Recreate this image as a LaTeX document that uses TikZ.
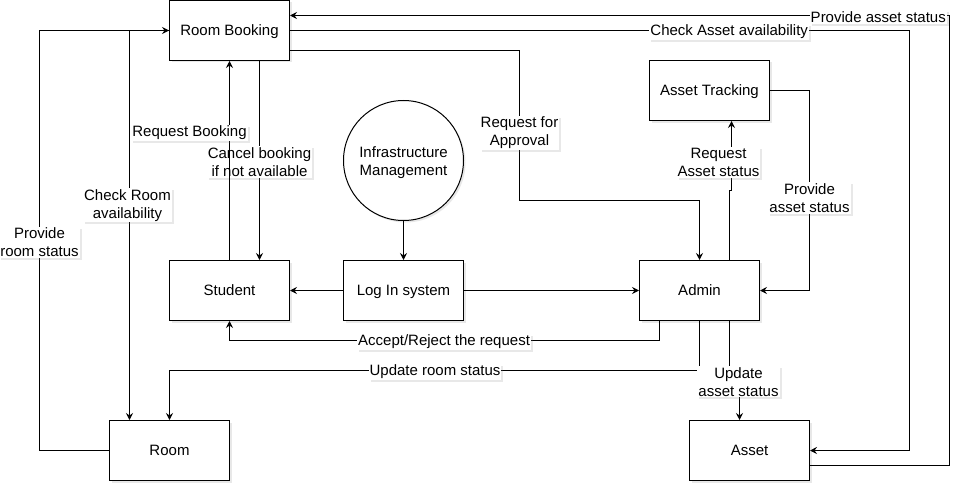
\documentclass[tikz,border=0pt]{standalone}
\usepackage{fontspec}
\setmainfont{Liberation Sans}
\usetikzlibrary{arrows.meta,shadows}

\begin{document}
\begin{tikzpicture}[x=1pt,y=-1pt,line width=1pt,font=\fontsize{15}{18}\selectfont,
	shade/.style={drop shadow={opacity=0.18,shadow xshift=2pt,shadow yshift=-2pt}},
	proc/.style={draw,fill=white,minimum width=120pt,minimum height=60pt,text height=10.8pt,text depth=0pt,shade},
	lbl/.style={fill=white,align=center,inner sep=1pt,yshift=-1.5pt,shade},
	flow/.style={-{Stealth[length=7pt,width=7pt,inset=2.5pt]}}]
				\useasboundingbox (0,0) rectangle (964,487);
				
				\node[proc] (booking) at (229.5,30.5) {Room Booking};
				\node[proc] (student) at (229.5,290.5) {Student};
				\node[proc] (login) at (403.5,290.5) {Log In system};
				\node[proc] (admin) at (699.5,290.5) {Admin};
				\node[proc] (tracking) at (709.5,90.5) {Asset Tracking};
				\node[proc] (room) at (169.5,450.5) {Room};
				\node[proc] (asset) at (749.5,450.5) {Asset};
				\node[draw,circle,fill=white,minimum size=120pt,align=center,shade] (infra) at (403.5,160.5) {\rule{0pt}{15pt}Infrastructure\\Management};
				
				\draw[flow] ([yshift=-14.5pt]asset.east) -- (949.5,465) -- (949.5,15.5) -- node[lbl,pos=0.108] {Provide asset status} ([yshift=15pt]booking.east);
				\draw[flow] (booking.east) -- node[lbl,pos=0.709] {Check Asset availability} (909.5,30.5) -- (909.5,450.5) -- (asset.east);
				\draw[flow] ([yshift=-20pt]booking.east) -- (519.5,50.5) -- node[lbl,pos=0.537] {Request for\\Approval} (519.5,200.5) -- (699.5,200.5) -- (admin.north);
				\draw[flow] ([xshift=30pt]admin.north) -- (729.5,190) -- (731.5,190) -- node[lbl,pos=0.417,xshift=-13pt] {Request\\Asset status} ([xshift=22pt]tracking.south);
				\draw[flow] (tracking.east) -- (809.5,90.5) -- node[lbl,pos=0.53] {Provide\\asset status} (809.5,290.5) -- (admin.east);
				
				\draw[flow] (login) -- (admin);
				\draw[flow] (login) -- (student);
				\draw[flow] (infra) -- (login);
				
				\draw[flow] ([xshift=30pt]booking.south) -- node[lbl] {Cancel booking\\if not available} ([xshift=30pt]student.north);
				\draw[flow] (student.north) -- node[lbl,pos=0.6475,xshift=-40pt] {Request Booking} (booking.south);
				\draw[flow] (booking.west) -- (129.5,30.5) -- node[lbl,pos=0.445,xshift=-2pt] {Check Room\\availability} ([xshift=-40pt]room.north);
				\draw[flow] (room.west) -- (39.5,450.5) -- node[lbl,pos=0.499] {Provide\\room status} (39.5,30.5) -- (booking.west);
				
				\draw[flow] ([xshift=-40pt]admin.south) -- (659.5,340.5) -- node[lbl,pos=0.501] {Accept/Reject the request} (229.5,340.5) -- (student.south);
				\draw[flow] (admin.south) -- (699.5,370.5) -- node[lbl,pos=0.499] {Update room status} (169.5,370.5) -- (room.north);
				\draw[flow] ([xshift=30pt]admin.south) -- node[lbl,pos=0.86,xshift=9pt] {Update\\asset status} (729.5,390) -- (739.5,390) -- ([xshift=-10pt]asset.north);
			\end{tikzpicture}
\end{document}
